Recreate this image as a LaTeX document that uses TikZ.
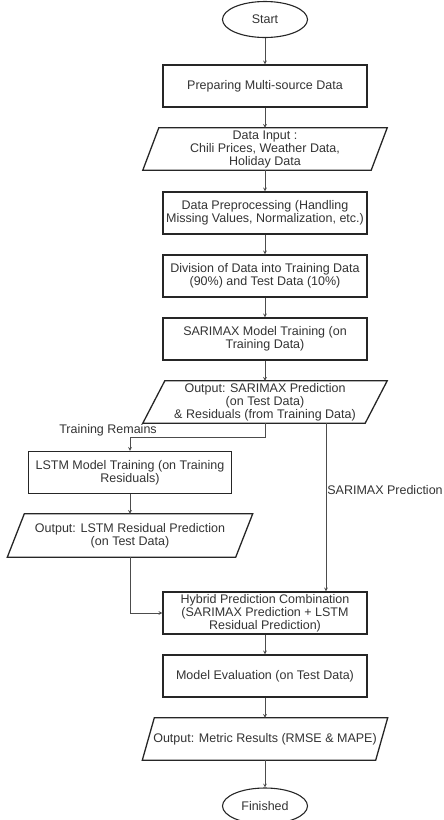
\documentclass[tikz,border=0pt]{standalone}
\usepackage{fontspec}
\setmainfont{Liberation Sans}
\usetikzlibrary{arrows.meta}
\usetikzlibrary{positioning}
\usetikzlibrary{shapes.geometric}

\tikzset{
    process/.style={rectangle, draw=black!85, line width=1.3pt, minimum width=204pt, minimum height=42pt, inner sep=1pt, align=center},
    inout/.style={rectangle, minimum height=42pt, inner sep=1pt, align=center},
    terminal/.style={ellipse, draw=black!85, line width=1.1pt, minimum width=85pt, minimum height=36pt, inner sep=1pt},
    flow/.style={->, >=stealth, draw=black!70, line width=0.7pt},
    slantline/.style={draw=black!85, line width=1.3pt, line join=miter},
}
% parallelogram round an inout node: #1 name, #2 half of the slant
\newcommand{\slantbox}[2]{%
    \draw[slantline] ([xshift=#2pt]#1.north west) -- ([xshift=#2pt]#1.north east)
        -- ([xshift=-#2pt]#1.south east) -- ([xshift=-#2pt]#1.south west) -- cycle;}

\begin{document}
\begin{tikzpicture}[x=1pt, y=-1pt, every node/.append style={text=black!80, font=\fontsize{12.5}{13}\selectfont}]
    \useasboundingbox (0,0) rectangle (444,820);

    \node[terminal] (start) at (265,19.5) {Start};
    \node[process] (prep) at (265,86) {Preparing Multi-source Data};
    \node[inout, minimum width=228pt] (input) at (265,149) {Data Input :\\Chili Prices, Weather Data,\\Holiday Data};
    \node[process] (pre) at (265,213) {Data Preprocessing (Handling\\Missing Values, Normalization, etc.)};
    \node[process] (div) at (265,276) {Division of Data into Training Data\\(90\%) and Test Data (10\%)};
    \node[process] (sar) at (265,339) {SARIMAX Model Training (on\\Training Data)};
    \node[inout, minimum width=222pt] (sout) at (265,402) {Output: SARIMAX Prediction\\(on Test Data)\\\& Residuals (from Training Data)};
    \node[process, minimum width=203pt] (lstm) at (130,472.5) {LSTM Model Training (on Training\\Residuals)};
    \node[inout, minimum width=228pt, minimum height=43pt] (lout) at (130,535.5) {Output: LSTM Residual Prediction\\(on Test Data)};
    \node[process] (hyb) at (265,613) {Hybrid Prediction Combination\\(SARIMAX Prediction + LSTM\\Residual Prediction)};
    \node[process] (eval) at (265,676) {Model Evaluation (on Test Data)};
    \node[inout, minimum width=233pt] (mout) at (265,739) {Output: Metric Results (RMSE \& MAPE)};
    \node[terminal] (fin) at (265,806) {Finished};

    \slantbox{input}{8}
    \slantbox{sout}{11}
    \slantbox{lout}{8.5}
    \slantbox{mout}{6}

    \draw[flow] (start) -- (prep);
    \draw[flow] (prep) -- (input);
    \draw[flow] (input) -- (pre);
    \draw[flow] (pre) -- (div);
    \draw[flow] (div) -- (sar);
    \draw[flow] (sar) -- (sout);
    \draw[flow] (sout.south) -- ++(0,14) -| (lstm.north);
    \node (trlab) at (108,430.5) {Training Remains};
    \draw[flow] ([xshift=61pt]sout.south) -- node[right, pos=0.4, inner sep=1pt] (sarlab) {SARIMAX Prediction} ([xshift=61pt]hyb.north);
    \draw[flow] (lstm) -- (lout);
    \draw[flow] (lout.south) |- (hyb.west);
    \draw[flow] (hyb) -- (eval);
    \draw[flow] (eval) -- (mout);
    \draw[flow] (mout) -- (fin);
\end{tikzpicture}
\end{document}
